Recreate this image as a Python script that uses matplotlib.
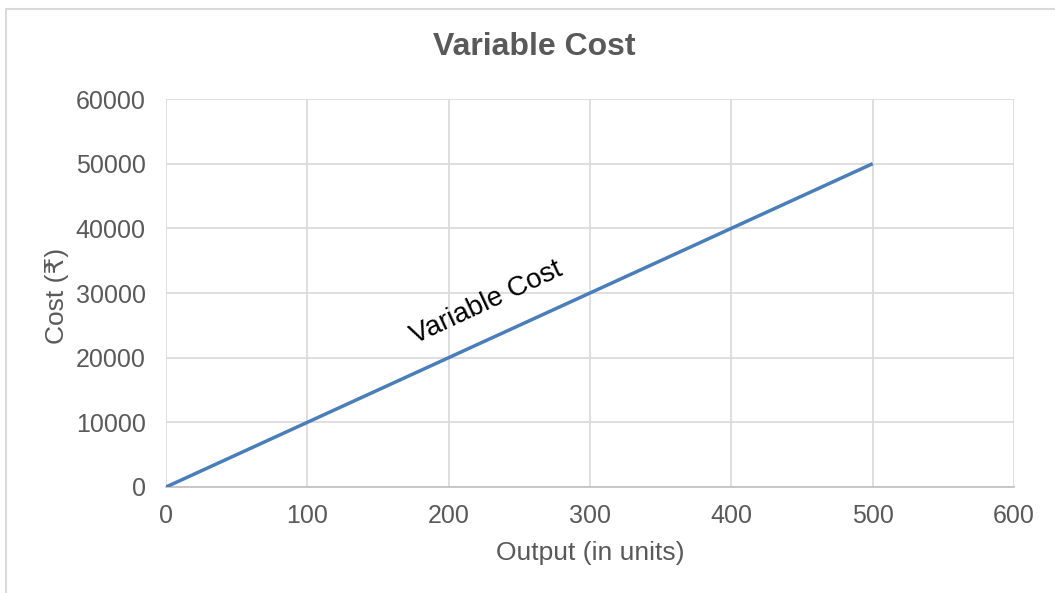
import numpy as np
import matplotlib
matplotlib.use("Agg")
import matplotlib.pyplot as plt
from matplotlib.patches import Rectangle

# data
output_units = [0, 100, 200, 300, 400, 500]
variable_cost = [0, 10000, 20000, 30000, 40000, 50000]
x_ticks = [0, 100, 200, 300, 400, 500, 600]
y_ticks = [0, 10000, 20000, 30000, 40000, 50000, 60000]

plt.rcParams['font.family'] = ['Liberation Sans', 'DejaVu Sans']

W, H = 1055, 593
fig = plt.figure(figsize=(W / 100, H / 100), dpi=100)
ax = fig.add_axes([166 / W, 1 - 487 / H, (1014 - 166) / W, (487 - 99) / H])

grey_txt = '#595959'
grid_col = '#d9d9d9'

ax.plot(output_units, variable_cost, color='#4a7ebb', lw=2.5, solid_capstyle='butt', zorder=3)

ax.set_xlim(0, 600)
ax.set_ylim(0, 60000)
ax.set_xticks(x_ticks)
ax.set_yticks(y_ticks)
ax.tick_params(length=0, labelsize=18, colors=grey_txt)
ax.tick_params(axis='y', pad=14.5)
ax.tick_params(axis='x', pad=12)
ax.grid(True, color=grid_col, lw=1.2)
ax.set_axisbelow(True)
for side in ['top', 'right', 'left']:
    ax.spines[side].set_visible(False)
ax.spines['bottom'].set_color('#bfbfbf')
ax.spines['bottom'].set_linewidth(1.2)

# text along the line
ax.text(226.5, 28500, 'Variable Cost', rotation=25, rotation_mode='anchor',
        ha='center', va='center', fontsize=20, color='black')

fig.text(534 / W, 1 - 47 / H, 'Variable Cost', ha='center', va='center',
         fontsize=23, fontweight='bold', color=grey_txt)
fig.text(590 / W, 1 - 553 / H, 'Output (in units)', ha='center', va='center',
         fontsize=19, color=grey_txt)
fig.text(57 / W, 1 - 296 / H, 'Cost (₹)', ha='center', va='center',
         rotation=90, fontsize=19, color=grey_txt)

# chart area border
fig.patches.append(Rectangle((6 / W, -0.05), 1.05, 1 - 9 / H + 0.05,
                             transform=fig.transFigure, fill=False,
                             edgecolor=grid_col, lw=1.5))

fig.savefig('out.png', dpi=100)
